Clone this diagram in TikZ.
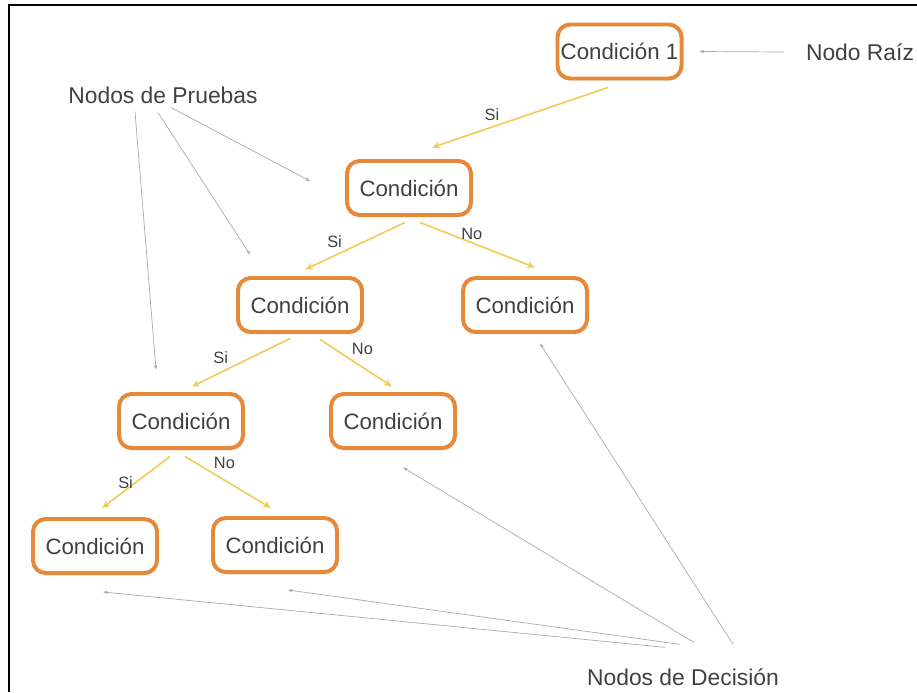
\documentclass[tikz,border=0pt]{standalone}
\usepackage{fontspec}
\setmainfont{Liberation Sans}
\usetikzlibrary{arrows.meta,shadows}
\definecolor{naranja}{HTML}{E8893A}
\definecolor{amarillo}{HTML}{F0CC5A}
\definecolor{gris}{HTML}{AAAAAA}
\definecolor{texto}{HTML}{404040}
\tikzset{
  cond/.style={draw=naranja, line width=3.4pt, rounded corners=0.38cm, fill=white,
    minimum width=3.72cm, minimum height=1.62cm, inner sep=2pt,
    drop shadow={opacity=0.18, shadow xshift=0pt, shadow yshift=-2pt},
    font=\fontsize{19}{21}\selectfont, text=texto},
  rama/.style={draw=amarillo, line width=1.4pt, -{Stealth[length=7pt,width=6pt]}},
  guia/.style={draw=gris, line width=0.6pt, -{Stealth[length=4pt,width=3pt]}},
  rotulo/.style={font=\fontsize{19.5}{22}\selectfont, text=texto},
  etiq/.style={font=\fontsize{14}{16}\selectfont, text=texto, inner sep=2pt}
}
\begin{document}
\begin{tikzpicture}[x=0.03cm,y=-0.03cm]
\useasboundingbox (0,0) rectangle (917,692);
\draw[line width=1.6pt] (9,692) -- (9,5) -- (917,5);
% arbol
\node[cond] (c1) at (619.5,51.5) {Condición 1};
\node[cond] (c2) at (409,188) {Condición};
\node[cond] (c3) at (300,305) {Condición};
\node[cond] (c4) at (525,305) {Condición};
\node[cond] (c5) at (181,421) {Condición};
\node[cond] (c6) at (393,421) {Condición};
\node[cond] (c7) at (95,546) {Condición};
\node[cond] (c8) at (275,545) {Condición};
% rotulos
\node[rotulo] (raiz) at (860,52) {Nodo Raíz};
\node[rotulo] (pruebas) at (163,95) {Nodos de Pruebas};
\node[rotulo] (decision) at (683,677) {Nodos de Decisión};
% ramas
\draw[rama] ([shift={(-11.5,7)}]c1.south) -- node[etiq,above left,pos=0.6]{Si} ([shift={(23,-11.5)}]c2.north);
\draw[rama] ([shift={(-4,5.5)}]c2.south) -- node[etiq,above left,pos=0.6]{Si} ([shift={(5,-6.5)}]c3.north);
\draw[rama] ([shift={(11,5.5)}]c2.south) -- node[etiq,above,pos=0.45]{No} ([shift={(10,-8.5)}]c4.north);
\draw[rama] ([shift={(-10,4.5)}]c3.south) -- node[etiq,above left,pos=0.6]{Si} ([shift={(11,-5.5)}]c5.north);
\draw[rama] ([shift={(20,5.5)}]c3.south) -- node[etiq,above right,pos=0.4]{No} ([shift={(-1,-5.5)}]c6.north);
\draw[rama] ([shift={(-11,6.5)}]c5.south) -- node[etiq,left,pos=0.5]{Si} ([shift={(7,-9)}]c7.north);
\draw[rama] ([shift={(4,6.5)}]c5.south) -- node[etiq,above right,pos=0.3]{No} ([shift={(-4,-8)}]c8.north);
% guias
\draw[guia] ([shift={(-18,0)}]raiz.west) -- ([shift={(16,0)}]c1.east);
\draw[guia] ([shift={(8,0)}]pruebas.south) -- ([shift={(-35,-7)}]c2.west);
\draw[guia] ([shift={(-5,5)}]pruebas.south) -- ([shift={(-50,-21.5)}]c3.north);
\draw[guia] ([shift={(-28,4)}]pruebas.south) -- ([shift={(-25,-22.5)}]c5.north);
\draw[guia] ([shift={(-18,-17)}]decision.north) -- ([shift={(8,17)}]c7.south);
\draw[guia] ([shift={(-3,-20)}]decision.north) -- ([shift={(13,16)}]c8.south);
\draw[guia] ([shift={(11,-22)}]decision.north) -- ([shift={(10,17.5)}]c6.south);
\draw[guia] ([shift={(50,-20)}]decision.north) -- ([shift={(15,9.5)}]c4.south);
\end{tikzpicture}
\end{document}
